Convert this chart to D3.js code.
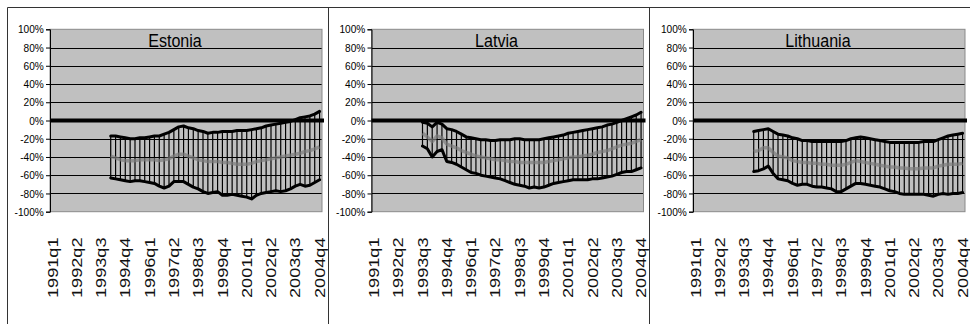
<!DOCTYPE html>
<html>
<head>
<meta charset="utf-8">
<script src="https://cdn.jsdelivr.net/npm/d3@7"></script>
<style>
  html, body { margin: 0; padding: 0; background: #fff; }
  svg { display: block; font-family: "Liberation Sans", Arial, sans-serif; }
</style>
</head>
<body>
<svg id="chart" width="970" height="324"></svg>
<script>
// Quarterly categories on the x axis
const quarters = [
  "1991q1","1991q2","1991q3","1991q4","1992q1","1992q2","1992q3","1992q4",
  "1993q1","1993q2","1993q3","1993q4","1994q1","1994q2","1994q3","1994q4",
  "1995q1","1995q2","1995q3","1995q4","1996q1","1996q2","1996q3","1996q4",
  "1997q1","1997q2","1997q3","1997q4","1998q1","1998q2","1998q3","1998q4",
  "1999q1","1999q2","1999q3","1999q4","2000q1","2000q2","2000q3","2000q4",
  "2001q1","2001q2","2001q3","2001q4","2002q1","2002q2","2002q3","2002q4",
  "2003q1","2003q2","2003q3","2003q4","2004q1","2004q2","2004q3","2004q4"
];
const tickQuarters = ["1991q1","1992q2","1993q3","1994q4","1996q1","1997q2",
                      "1998q3","1999q4","2001q1","2002q2","2003q3","2004q4"];
const yTicks = [-100, -80, -60, -40, -20, 0, 20, 40, 60, 80, 100];

// Estonia (from 1994q1), percent
const estoniaStart = "1994q1";
const estoniaUpper = [-17,-17,-18,-19,-20,-20,-19,-19,-18,-17,-17,-15,-13,-10,-7,-6,-8,-9,-11,-12,-14,
  -13,-13,-12,-12,-12,-11,-11,-11,-10,-9,-8,-6,-5,-4,-3,-2,-1,1,3,4,5,7,10];
const estoniaMiddle = [-39,-41,-43,-44,-44,-44,-43,-43,-43,-43,-44,-43,-42,-39,-37,-37,-39,-41,-43,-44,-45,
  -45,-45,-46,-46,-47,-48,-48,-48,-47,-45,-44,-43,-42,-41,-40,-39,-38,-37,-36,-34,-33,-31,-29];
const estoniaLower = [-63,-64,-65,-66,-67,-66,-66,-67,-68,-69,-72,-74,-72,-67,-67,-67,-70,-73,-75,-78,-80,
  -79,-78,-82,-82,-81,-82,-83,-84,-86,-82,-80,-79,-78,-77,-78,-77,-75,-72,-70,-72,-71,-68,-65];

// Latvia (from 1993q3), percent
const latviaStart = "1993q3";
const latviaUpper = [-2,-3,-7,-2,-4,-9,-10,-12,-15,-18,-19,-20,-21,-21,-22,-22,-21,-21,-21,-20,-20,-21,-21,
  -21,-21,-20,-19,-18,-17,-16,-14,-13,-12,-11,-10,-9,-8,-7,-5,-4,-2,0,2,4,6,9];
const latviaMiddle = [-14,-18,-23,-17,-19,-26,-28,-30,-33,-35,-37,-39,-40,-41,-42,-43,-43,-44,-45,-45,-46,-46,-46,
  -46,-46,-46,-45,-44,-43,-42,-41,-40,-40,-39,-38,-37,-35,-34,-33,-31,-29,-27,-26,-25,-23,-21];
const latviaLower = [-28,-31,-40,-34,-32,-45,-46,-48,-51,-54,-57,-58,-60,-61,-62,-63,-64,-66,-68,-70,-71,-72,-74,
  -73,-74,-73,-71,-69,-68,-67,-66,-65,-65,-65,-65,-64,-64,-63,-62,-61,-59,-57,-56,-56,-54,-52];

// Lithuania (from 1994q1), percent
const lithuaniaStart = "1994q1";
const lithuaniaUpper = [-12,-11,-10,-9,-12,-15,-16,-17,-19,-20,-22,-22,-23,-23,-23,-23,-23,-23,-23,-22,-20,-19,
  -18,-19,-20,-21,-22,-23,-24,-24,-24,-24,-24,-24,-24,-23,-23,-23,-21,-19,-17,-16,-15,-14];
const lithuaniaMiddle = [-34,-33,-30,-30,-35,-39,-40,-41,-44,-45,-46,-46,-47,-47,-48,-48,-49,-49,-49,-48,-46,-44,
  -45,-46,-47,-48,-49,-50,-51,-51,-52,-52,-53,-53,-53,-52,-52,-52,-50,-49,-48,-48,-48,-47];
const lithuaniaLower = [-56,-55,-53,-50,-58,-64,-65,-66,-69,-71,-70,-70,-72,-73,-73,-74,-75,-78,-78,-75,-72,-69,
  -69,-70,-71,-72,-73,-75,-77,-78,-80,-81,-81,-81,-81,-81,-82,-83,-81,-80,-81,-80,-80,-79];

const panels = [
  { name: "Estonia",   start: estoniaStart,   upper: estoniaUpper,   middle: estoniaMiddle,   lower: estoniaLower },
  { name: "Latvia",    start: latviaStart,    upper: latviaUpper,    middle: latviaMiddle,    lower: latviaLower },
  { name: "Lithuania", start: lithuaniaStart, upper: lithuaniaUpper, middle: lithuaniaMiddle, lower: lithuaniaLower }
];

const svg = d3.select("#chart");
const frameStep = 321;
const plotTop = 29.3, plotBottom = 211.7, plotWidth = 272;

// chart frames
svg.append("line").attr("x1", 7.5).attr("x2", 970).attr("y1", 7.5).attr("y2", 7.5)
  .attr("stroke", "#333").attr("stroke-width", 1);
[0, 1, 2].forEach(i => {
  const fx = 7.5 + i * frameStep;
  svg.append("line").attr("x1", fx).attr("x2", fx).attr("y1", 7.5).attr("y2", 324)
    .attr("stroke", "#333").attr("stroke-width", 1);
});

panels.forEach((p, i) => {
  const left = 50 + i * 321.5;
  const g = svg.append("g");

  const x = d3.scaleBand().domain(quarters).range([left, left + plotWidth]);
  const cx = q => x(q) + x.bandwidth() / 2;
  const y = d3.scaleLinear().domain([-100, 100]).range([plotBottom, plotTop]);

  const s = quarters.indexOf(p.start);
  const pts = p.upper.map((u, k) => ({
    q: quarters[s + k], upper: u, middle: p.middle[k], lower: p.lower[k]
  }));

  // plot area
  g.append("rect").attr("x", left).attr("y", plotTop)
    .attr("width", plotWidth).attr("height", plotBottom - plotTop)
    .attr("fill", "#c0c0c0");

  // gridlines
  g.selectAll(".grid").data(yTicks.filter(t => Math.abs(t) < 100 && t !== 0)).enter()
    .append("line")
    .attr("x1", left).attr("x2", left + plotWidth)
    .attr("y1", d => Math.round(y(d)) + 0.5).attr("y2", d => Math.round(y(d)) + 0.5)
    .attr("stroke", "#000").attr("stroke-width", 1);

  g.append("rect").attr("x", left).attr("y", plotTop)
    .attr("width", plotWidth).attr("height", plotBottom - plotTop)
    .attr("fill", "none").attr("stroke", "#8a8a8a").attr("stroke-width", 1);

  // y axis
  const ya = g.append("g").attr("transform", `translate(${left},0)`)
    .call(d3.axisLeft(y).tickValues(yTicks).tickSize(4).tickPadding(3)
      .tickFormat(d => d + "%"));
  ya.select(".domain").attr("stroke", "#000");
  ya.selectAll(".tick line").attr("stroke", "#000");
  ya.selectAll(".tick text")
    .attr("font-size", 11.5).attr("fill", "#000")
    .attr("font-family", "'Liberation Sans', Arial, sans-serif")
    .attr("transform", "scale(0.88,1)");

  // high-low lines
  g.selectAll(".hilo").data(pts).enter().append("line")
    .attr("x1", d => cx(d.q)).attr("x2", d => cx(d.q))
    .attr("y1", d => y(d.upper)).attr("y2", d => y(d.lower))
    .attr("stroke", "#000").attr("stroke-width", 1.2);

  // middle series
  g.append("path").datum(pts)
    .attr("d", d3.line().x(d => cx(d.q)).y(d => y(d.middle)))
    .attr("fill", "none").attr("stroke", "#7c7c7c").attr("stroke-width", 3.5)
    .attr("stroke-opacity", 0.7)
    .attr("stroke-linejoin", "round");

  // zero line
  g.append("line").attr("x1", left).attr("x2", left + plotWidth + 2)
    .attr("y1", y(0)).attr("y2", y(0))
    .attr("stroke", "#000").attr("stroke-width", 4);

  // upper and lower bounds
  ["upper", "lower"].forEach(key => {
    g.append("path").datum(pts)
      .attr("d", d3.line().x(d => cx(d.q)).y(d => y(d[key])))
      .attr("fill", "none").attr("stroke", "#000").attr("stroke-width", 3)
      .attr("stroke-linejoin", "round").attr("stroke-linecap", "round");
  });

  // title
  g.append("text")
    .attr("transform", `translate(${left + 125},46.5) scale(0.87,1)`)
    .attr("text-anchor", "middle").attr("font-size", 18.5).attr("fill", "#000")
    .text(p.name);

  // x labels
  g.selectAll(".xl").data(tickQuarters).enter().append("text")
    .attr("transform", d => `translate(${cx(d)},237.5) rotate(-90) scale(1.25,1)`)
    .attr("text-anchor", "end").attr("dy", "0.35em")
    .attr("font-size", 14.5).attr("fill", "#111")
    .text(d => d);
});
</script>
</body>
</html>
